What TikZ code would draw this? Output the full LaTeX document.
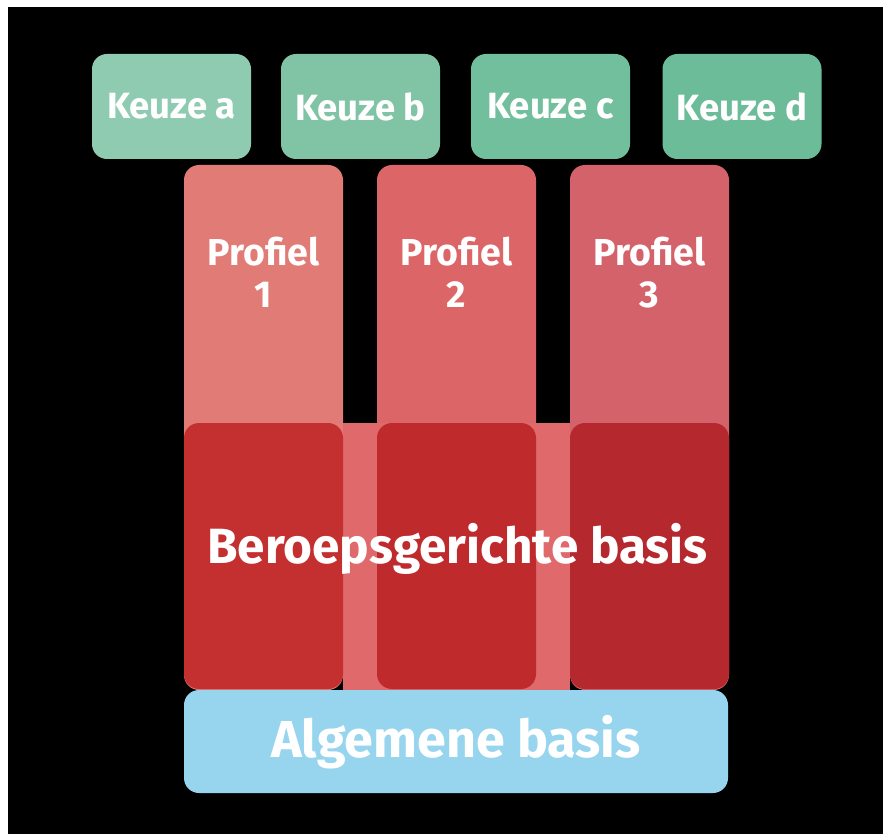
\documentclass[tikz,border=0pt]{standalone}
\usepackage{fontspec}
\setmainfont{Fira Sans}
\usepackage{xcolor}
\usepackage{tikz}
\usetikzlibrary{positioning}

\definecolor{keuzeA}{RGB}{143,203,177}
\definecolor{keuzeB}{RGB}{128,196,165}
\definecolor{keuzeC}{RGB}{114,191,157}
\definecolor{keuzeD}{RGB}{108,188,154}
\definecolor{profA}{RGB}{224,123,118}
\definecolor{profB}{RGB}{220,101,104}
\definecolor{profC}{RGB}{212,98,107}
\definecolor{bandpink}{RGB}{223,105,107}
\definecolor{beroepA}{RGB}{196,48,47}
\definecolor{beroepB}{RGB}{191,42,44}
\definecolor{beroepC}{RGB}{181,40,45}
\definecolor{algblue}{RGB}{151,213,238}

\tikzset{
  keuzebox/.style={rounded corners=15pt, minimum width=159pt, minimum height=105pt,
    inner sep=0pt, text=white, font=\bfseries\fontsize{36.5}{40}\selectfont},
  blocktext/.style={text=white, inner sep=0pt, anchor=base},
  profieltext/.style={blocktext, align=center, font=\bfseries\fontsize{37.5}{42}\selectfont},
}

\begin{document}
\begin{tikzpicture}[x=1pt, y=-1pt]

% === BACKGROUND ===
\fill[white] (0,0) rectangle (883,834);
\fill[black] (8,7) rectangle (883,834);

% === TOP ROW: Keuze ===
\node[keuzebox, fill=keuzeA] (keuzeA) at (171.5,106.5) {Keuze a};
\node[keuzebox, fill=keuzeB] (keuzeB) at (360.5,106.5) {Keuze b};
\node[keuzebox, fill=keuzeC] (keuzeC) at (550.5,106.5) {Keuze c};
\node[keuzebox, fill=keuzeD] (keuzeD) at (742,106.5) {Keuze d};

% === PROFIEL COLUMNS ===
\fill[profA, rounded corners=15pt] (184,165) rectangle (343,690);
\fill[profB, rounded corners=15pt] (377,165) rectangle (536,690);
\fill[profC, rounded corners=15pt] (570,165) rectangle (729,690);
\node[profieltext] (profiel1) at (263.5,307) {Profiel\\1};
\node[profieltext] (profiel2) at (456.5,307) {Profiel\\2};
\node[profieltext] (profiel3) at (649.5,307) {Profiel\\3};

% === MIDDLE: Beroepsgerichte basis ===
\fill[bandpink] (343,423) rectangle (570,690);
\fill[beroepA, rounded corners=15pt] (184,423) rectangle (343,689);
\fill[beroepB, rounded corners=15pt] (377,423) rectangle (536,689);
\fill[beroepC, rounded corners=15pt] (570,423) rectangle (729,689);
\node[blocktext, font=\bfseries\fontsize{49.5}{54}\selectfont] (beroeps) at (457.5,563) {Beroepsgerichte basis};

% === BOTTOM: Algemene basis ===
\fill[algblue, rounded corners=15pt] (184,690) rectangle (728,793);
\node[blocktext, font=\bfseries\fontsize{52}{56}\selectfont] (algemeen) at (456,757) {Algemene basis};

\end{tikzpicture}
\end{document}
